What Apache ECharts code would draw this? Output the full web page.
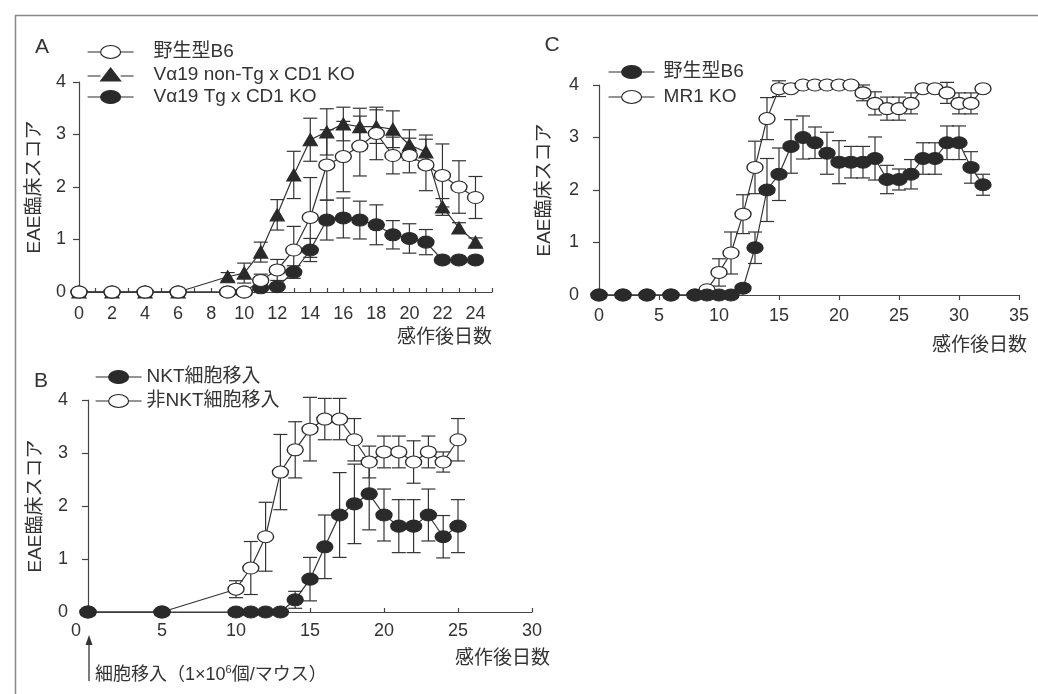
<!DOCTYPE html>
<html>
<head>
<meta charset="utf-8">
<title>EAE臨床スコア</title>
<script src="https://cdn.jsdelivr.net/npm/echarts@6.0.0/dist/echarts.min.js"></script>
<style>
  html, body { margin: 0; padding: 0; background: #fff; }
  #main { width: 1038px; height: 694px; }
</style>
</head>
<body>
<div id="main"></div>
<script type="text/javascript">
// ---- panel A ----
var aDays     = [0, 2, 4, 6, 9, 10, 11, 12, 13, 14, 15, 16, 17, 18, 19, 20, 21, 22, 23, 24];
var aWild     = [0, 0, 0, 0, 0, 0, 0.22, 0.42, 0.8, 1.42, 2.42, 2.58, 2.78, 3.02, 2.6, 2.6, 2.42, 2.22, 2.0, 1.8];
var aWildErr  = [0, 0, 0, 0, 0, 0, 0.12, 0.2, 0.45, 0.76, 0.67, 0.67, 0.57, 0.5, 0.35, 0.33, 0.49, 0.6, 0.5, 0.4];
var aNonTg    = [0, 0, 0, 0, 0.29, 0.36, 0.76, 1.47, 2.23, 2.9, 3.05, 3.2, 3.15, 3.15, 3.1, 2.8, 2.67, 1.62, 1.22, 0.95];
var aNonTgErr = [0, 0, 0, 0, 0.08, 0.19, 0.19, 0.29, 0.45, 0.41, 0.44, 0.32, 0.35, 0.32, 0.35, 0.29, 0.32, 0.16, 0.1, 0.08];
var aTg       = [0, 0, 0, 0, 0, 0, 0.08, 0.1, 0.38, 0.8, 1.37, 1.41, 1.37, 1.28, 1.09, 1.02, 0.95, 0.61, 0.61, 0.61];
var aTgErr    = [0, 0, 0, 0, 0, 0, 0.03, 0.05, 0.12, 0.22, 0.38, 0.38, 0.36, 0.38, 0.27, 0.28, 0.24, 0.05, 0.05, 0.05];

// ---- panel B ----
var bDays      = [0, 5, 10, 11, 12, 13, 14, 15, 16, 17, 18, 19, 20, 21, 22, 23, 24, 25];
var bNkt       = [0, 0, 0, 0, 0, 0, 0.23, 0.62, 1.23, 1.83, 2.04, 2.23, 1.83, 1.62, 1.62, 1.83, 1.42, 1.62];
var bNktErr    = [0, 0, 0, 0, 0, 0, 0.16, 0.41, 0.6, 0.8, 0.75, 0.68, 0.49, 0.5, 0.5, 0.49, 0.4, 0.5];
var bNonNkt    = [0, 0, 0.43, 0.83, 1.42, 2.64, 3.06, 3.45, 3.64, 3.64, 3.25, 2.83, 3.02, 3.02, 2.83, 3.02, 2.83, 3.25];
var bNonNktErr = [0, 0, 0.16, 0.5, 0.65, 0.71, 0.53, 0.6, 0.39, 0.39, 0.4, 0.3, 0.3, 0.3, 0.4, 0.3, 0.19, 0.4];

// ---- panel C ----
var cDays    = [0, 2, 4, 6, 8, 9, 10, 11, 12, 13, 14, 15, 16, 17, 18, 19, 20, 21, 22, 23, 24, 25, 26, 27, 28, 29, 30, 31, 32];
var cWild    = [0, 0, 0, 0, 0, 0, 0, 0, 0.13, 0.9, 2.0, 2.3, 2.83, 3.0, 2.9, 2.7, 2.53, 2.53, 2.53, 2.6, 2.2, 2.2, 2.3, 2.6, 2.6, 2.9, 2.9, 2.43, 2.1];
var cWildErr = [0, 0, 0, 0, 0, 0, 0, 0, 0.05, 0.3, 0.6, 0.5, 0.51, 0.41, 0.3, 0.4, 0.41, 0.3, 0.3, 0.41, 0.27, 0.2, 0.28, 0.3, 0.3, 0.32, 0.32, 0.3, 0.2];
var cMr1     = [0, 0, 0, 0, 0, 0.1, 0.43, 0.8, 1.54, 2.43, 3.36, 3.93, 3.93, 4, 4, 4, 4, 4, 3.85, 3.65, 3.55, 3.55, 3.65, 3.93, 3.93, 3.85, 3.65, 3.65, 3.93];
var cMr1Err  = [0, 0, 0, 0, 0, 0.05, 0.26, 0.4, 0.37, 0.5, 0.4, 0.15, 0.05, 0, 0, 0, 0, 0, 0.15, 0.22, 0.22, 0.22, 0.2, 0.05, 0.05, 0.2, 0.2, 0.2, 0];

var FONT = "'Liberation Sans','Noto Sans CJK JP',sans-serif";
var INK = '#2a2a2a';
var TXT = '#333';

var iconEllipse = 'path://M0,6.5L13,6.5M33,6.5L46,6.5M13,6.5A10,6.5 0 1 1 33,6.5A10,6.5 0 1 1 13,6.5Z';
var iconTri = 'path://M0,8L13,8M33,8L46,8M13,13L23,0L33,13Z';

function pairs(days, vals) {
    var out = [];
    for (var i = 0; i < days.length; i++) out.push([days[i], vals[i]]);
    return out;
}
function errPairs(days, vals, errs) {
    var out = [];
    for (var i = 0; i < days.length; i++) {
        if (errs[i] > 0) out.push([days[i], vals[i] - errs[i], vals[i] + errs[i]]);
    }
    return out;
}

function errRender(params, api) {
    var x = api.value(0);
    var top = api.coord([x, api.value(2)]);
    var bot = api.coord([x, api.value(1)]);
    var w = 7;
    var st = { stroke: '#333', lineWidth: 1.2 };
    return {
        type: 'group',
        children: [
            { type: 'line', shape: { x1: top[0], y1: top[1], x2: bot[0], y2: bot[1] }, style: st },
            { type: 'line', shape: { x1: top[0] - w, y1: top[1], x2: top[0] + w, y2: top[1] }, style: st },
            { type: 'line', shape: { x1: bot[0] - w, y1: bot[1], x2: bot[0] + w, y2: bot[1] }, style: st }
        ]
    };
}

function errSeries(gi, days, vals, errs) {
    return {
        type: 'custom', xAxisIndex: gi, yAxisIndex: gi, silent: true, z: 1,
        renderItem: errRender, encode: { x: 0, y: [1, 2] },
        data: errPairs(days, vals, errs)
    };
}

function lineSeries(name, gi, days, vals, kind) {
    return {
        name: name, type: 'line', xAxisIndex: gi, yAxisIndex: gi, z: 3,
        data: pairs(days, vals),
        lineStyle: { color: '#333', width: 1.2 },
        symbol: kind === 'tri' ? 'triangle' : 'circle',
        symbolSize: kind === 'tri' ? [14, 12] : [16, 12],
        itemStyle: {
            color: kind === 'open' ? '#fff' : INK,
            borderColor: INK, borderWidth: 1.2, opacity: 1
        },
        emphasis: { disabled: true }
    };
}

function xAxisFor(gi, max, interval, tickInside, margin, gap, pad, labelFmt, rich) {
    return {
        gridIndex: gi, type: 'value', min: 0, max: max, interval: interval,
        name: '感作後日数', nameLocation: 'end', nameGap: gap,
        nameTextStyle: { fontFamily: FONT, fontSize: 19, color: TXT, align: 'right', verticalAlign: 'top', padding: [pad, 0, 0, 0] },
        axisLine: { onZero: false, lineStyle: { color: '#444', width: 1.2 } },
        axisTick: { inside: tickInside, length: tickInside ? 4 : 5, lineStyle: { color: '#444', width: 1.2 } },
        axisLabel: { fontFamily: FONT, fontSize: 18, color: TXT, margin: margin, formatter: labelFmt, rich: rich },
        splitLine: { show: false }
    };
}

function yAxisFor(gi, margin, gap) {
    return {
        gridIndex: gi, type: 'value', min: 0, max: 4, interval: 1,
        name: 'EAE臨床スコア', nameLocation: 'middle', nameGap: gap, nameRotate: 90,
        nameTextStyle: { fontFamily: FONT, fontSize: 19, color: TXT },
        axisLine: { onZero: false, lineStyle: { color: '#444', width: 1.2 } },
        axisTick: { inside: false, length: 6, lineStyle: { color: '#444', width: 1.2 } },
        axisLabel: { fontFamily: FONT, fontSize: 18, color: TXT, margin: margin },
        splitLine: { show: false }
    };
}

function legendFor(left, top, gap, textPad, items) {
    return {
        orient: 'vertical', left: left, top: top, padding: 0, itemGap: gap,
        itemWidth: 46, itemHeight: 13, selectedMode: false,
        itemStyle: { borderColor: INK, borderWidth: 1.2 },
        textStyle: { fontFamily: FONT, fontSize: 19, lineHeight: 20, color: TXT, padding: [0, 0, 0, textPad] },
        formatter: function (n) { return n.replace(/^C:/, ''); },
        data: items
    };
}

var myChart = echarts.init(document.getElementById('main'), null, { renderer: 'canvas' });

var option = {
    backgroundColor: '#fff',
    animation: false,
    grid: [
        { left: 79, top: 82, width: 413, height: 210 },
        { left: 88, top: 400, width: 444, height: 212 },
        { left: 599, top: 85, width: 420, height: 210 }
    ],
    xAxis: [
        xAxisFor(0, 25, 1, true, 13, 0, 36, function (v) { return (v % 2 === 0 && v <= 24) ? String(v) : ''; }),
        xAxisFor(1, 30, 5, true, 10, 18, 37, function (v) { return v === 0 ? '{s|0}' : String(v); },
            { s: { fontFamily: FONT, fontSize: 18, color: TXT, padding: [0, 24, 0, 0] } }),
        xAxisFor(2, 35, 5, false, 12, 8, 41)
    ],
    yAxis: [
        yAxisFor(0, 13, 35),
        yAxisFor(1, 20, 43),
        yAxisFor(2, 20, 45)
    ],
    legend: [
        legendFor(87, 42, 2.5, 15, [
            { name: '野生型B6', icon: iconEllipse },
            { name: 'Vα19 non-Tg x CD1 KO', icon: iconTri },
            { name: 'Vα19 Tg x CD1 KO', icon: iconEllipse }
        ]),
        legendFor(95, 367, 4, 0, [
            { name: 'NKT細胞移入', icon: iconEllipse },
            { name: '非NKT細胞移入', icon: iconEllipse }
        ]),
        legendFor(608, 62, 5, 4, [
            { name: 'C:野生型B6', icon: iconEllipse },
            { name: 'MR1 KO', icon: iconEllipse }
        ])
    ],
    series: [
        errSeries(0, aDays, aNonTg, aNonTgErr),
        errSeries(0, aDays, aTg, aTgErr),
        errSeries(0, aDays, aWild, aWildErr),
        lineSeries('Vα19 non-Tg x CD1 KO', 0, aDays, aNonTg, 'tri'),
        lineSeries('Vα19 Tg x CD1 KO', 0, aDays, aTg, 'filled'),
        lineSeries('野生型B6', 0, aDays, aWild, 'open'),

        errSeries(1, bDays, bNonNkt, bNonNktErr),
        errSeries(1, bDays, bNkt, bNktErr),
        lineSeries('非NKT細胞移入', 1, bDays, bNonNkt, 'open'),
        lineSeries('NKT細胞移入', 1, bDays, bNkt, 'filled'),

        errSeries(2, cDays, cMr1, cMr1Err),
        errSeries(2, cDays, cWild, cWildErr),
        lineSeries('MR1 KO', 2, cDays, cMr1, 'open'),
        lineSeries('C:野生型B6', 2, cDays, cWild, 'filled')
    ],
    graphic: [
        { type: 'rect', left: 13, top: 13, silent: true, z: -10,
          shape: { width: 1100, height: 1000 },
          style: { fill: 'none', stroke: '#888', lineWidth: 1.5 } },
        { type: 'text', style: { text: 'A', x: 42, y: 47, align: 'center', verticalAlign: 'middle', fontSize: 21, fontFamily: FONT, fill: TXT } },
        { type: 'text', style: { text: 'B', x: 41, y: 381, align: 'center', verticalAlign: 'middle', fontSize: 21, fontFamily: FONT, fill: TXT } },
        { type: 'text', style: { text: 'C', x: 552, y: 45, align: 'center', verticalAlign: 'middle', fontSize: 21, fontFamily: FONT, fill: TXT } },
        { type: 'line', silent: true, shape: { x1: 89, y1: 681, x2: 89, y2: 644 }, style: { stroke: '#333', lineWidth: 1.3 } },
        { type: 'polygon', silent: true, shape: { points: [[89, 635], [85.5, 645], [92.5, 645]] }, style: { fill: '#333' } },
        { type: 'text', style: {
            text: '{a|細胞移入（1×10}{s|6}{a|個/マウス）}',
            x: 95, y: 675, align: 'left', verticalAlign: 'middle',
            fontSize: 18, fontFamily: FONT, fill: TXT,
            rich: {
                a: { fontSize: 18, fontFamily: FONT, fill: TXT, lineHeight: 22 },
                s: { fontSize: 11, fontFamily: FONT, fill: TXT, verticalAlign: 'top', lineHeight: 12 }
            }
        } }
    ]
};

myChart.setOption(option);
</script>
</body>
</html>
